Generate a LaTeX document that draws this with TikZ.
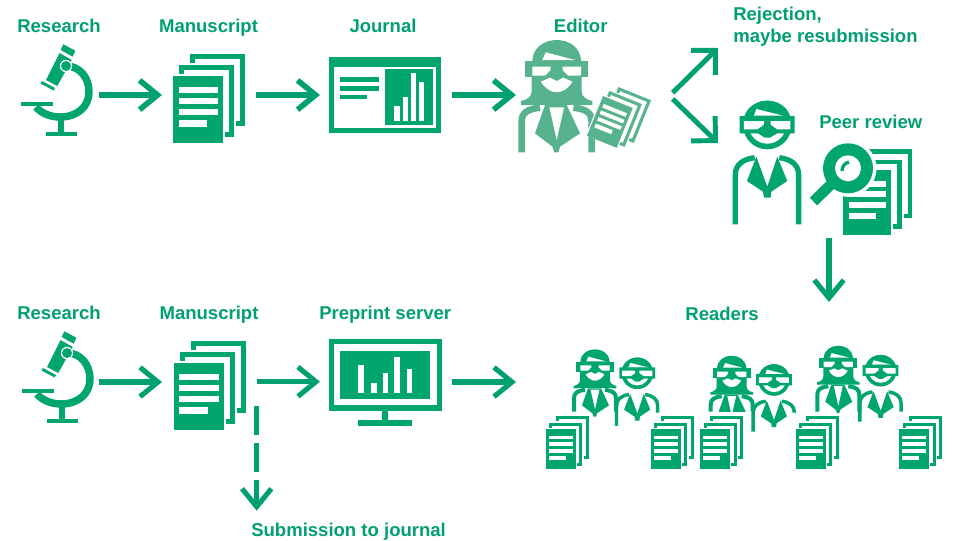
\documentclass[tikz,border=0pt]{standalone}
\usepackage{fontspec}
\setmainfont{Liberation Sans}
\usetikzlibrary{arrows.meta}
\definecolor{gmain}{HTML}{00A570}
\definecolor{garrow}{HTML}{00A071}
\definecolor{glight}{HTML}{57B38D}
\tikzset{
  lbl/.style={font=\bfseries\fontsize{13.9pt}{16pt}\selectfont,text=garrow,inner sep=0pt,anchor=base west},
  lblc/.style={lbl,anchor=base},
  conn/.style={draw=garrow,line width=4.2pt,-{Straight Barb[length=13.5pt,width=22pt]}},
  connlow/.style={conn,line width=3.8pt},
  conndiag/.style={draw=garrow,line width=3.7pt,-{Straight Barb[length=13pt,width=26pt]}}
}
% stack of pages: [extra scope options]{x}{y}{scale}{colour}
\newcommand\docstack[5][]{%
  \begin{scope}[shift={(#2,#3)},scale=#4,#1]
    \fill[white] (15,-2) rectangle (74,74);
    \fill[#5] (17,0) rectangle (72,72);
    \fill[white] (22,5) rectangle (67,67);
    \fill[white] (4,9) rectangle (63,85);
    \fill[#5] (6,11) rectangle (61,83);
    \fill[white] (11,16) rectangle (56,78);
    \fill[white] (-2,20) rectangle (52,89);
    \fill[#5] (0,22) rectangle (50,89);
    \fill[white] (5.7,33) rectangle (45,39);
    \fill[white] (5.7,44) rectangle (45,50);
    \fill[white] (5.7,55) rectangle (45,61);
    \fill[white] (5.7,66) rectangle (34,72.5);
  \end{scope}}
% microscope: {dx}{dy}
\newcommand\microscope[2]{%
  \begin{scope}[shift={(#1,#2)}]
    \fill[gmain] (63.3,44.3) -- (75.3,50.7) -- (72.7,56.7) -- (60.7,50) -- cycle;
    \fill[gmain] (59.5,53) -- (71.7,60) -- (57.3,86) -- (46,80) -- cycle;
    \fill[gmain] (42,81) -- (55,88) -- (53.5,90.5) -- (40.5,83.5) -- cycle;
    \draw[gmain,line width=5.6pt] (66,66) .. controls (80,66) and (89,78) .. (89,92) .. controls (89,106) and (78,117) .. (60,117) .. controls (50,117) and (41,113) .. (36,107);
    \fill[white] (66,66) circle (6.2);
    \fill[gmain] (66,66) circle (5);
    \fill[gmain] (21,102) rectangle (53,106);
    \fill[gmain] (57.5,117) rectangle (64.3,132);
    \fill[gmain] (45.7,131.5) rectangle (76.7,135.5);
  \end{scope}}
% man: {cx}{cy}{scale}{left arm end}{right arm end}{colour}
\newcommand\man[6]{%
  \begin{scope}[shift={(#1,#2)},scale=#3/3]
    \fill[#6] (0,0) circle (73);
    \fill[white] (0,0) circle (56);
    \fill[#6] (-68,-27) .. controls (-60,-55) and (-30,-73) .. (0,-73) .. controls (30,-73) and (60,-55) .. (68,-27) -- cycle;
    \fill[white] (-40,-28) -- (-33,-48) -- (47,-28) -- cycle;
    \fill[#6] (-83,-27) -- (82,-27) -- (82,25) -- (30,25) -- (8,38) -- (-8,38) -- (-28,25) -- (-83,25) -- cycle;
    \fill[white] (-70,-12) -- (-10,-12) -- (-10,-1) -- (-30,13) -- (-70,13) -- cycle;
    \fill[white] (10,-12) -- (69,-12) -- (69,13) -- (30,13) -- (10,-1) -- cycle;
    \fill[#6] (-61,168) -- (-33,95) -- (0,185) -- (30,95) -- (60,168) -- (12,200) -- (10,218) -- (-10,218) -- (-13,200) -- cycle;
    \draw[#6,line width=#3*4pt] (-96,#4) -- (-96,150) .. controls (-96,120) and (-75,103) .. (-38,98);
    \draw[#6,line width=#3*4pt] (94,#5) -- (94,150) .. controls (94,120) and (73,103) .. (36,98);
  \end{scope}}
% woman: {cx}{cy}{scale}{left arm end}{right arm end}{colour}
\newcommand\woman[6]{%
  \begin{scope}[shift={(#1,#2)},scale=#3/3]
    \fill[#6] (-73,-15) .. controls (-70,-55) and (-35,-75) .. (0,-75) .. controls (35,-75) and (70,-55) .. (73,-15) -- (75,37) -- (75,80) .. controls (75,95) and (90,105) .. (107,108) -- (107,120) -- (-107,120) -- (-107,108) .. controls (-90,105) and (-75,95) .. (-75,80) -- (-75,37) -- cycle;
    \fill[white] (-43,-15) -- (-33,-38) -- (55,-15) -- cycle;
    \fill[#6] (-95,-13) rectangle (95,37);
    \fill[white] (-73,5) -- (-18,5) -- (-18,15) -- (-35,32) -- (-73,32) -- cycle;
    \fill[white] (18,5) -- (73,5) -- (73,32) -- (35,32) -- (18,15) -- cycle;
    \fill[white] (-47,50) -- (-20,38) -- (0,48) -- (20,38) -- (47,50) .. controls (35,72) and (15,82) .. (0,82) .. controls (-15,82) and (-35,72) .. (-47,50) -- cycle;
    \fill[white] (-85,120) rectangle (85,127);
    \fill[#6] (-65,205) -- (-35,120) -- (30,120) -- (70,205) -- (10,245) -- (5,262) -- (-7,262) -- (-13,245) -- cycle;
    \fill[white] (-22,127) -- (22,127) -- (0,225) -- cycle;
    \draw[#6,line width=#3*5pt] (-105,#4) -- (-105,170) .. controls (-105,145) and (-90,132) .. (-50,128);
    \draw[#6,line width=#3*5pt] (105,#5) -- (105,170) .. controls (105,145) and (90,132) .. (50,128);
  \end{scope}}
\begin{document}
\begin{tikzpicture}[x=0.75pt,y=-0.75pt]
\useasboundingbox (0,0) rectangle (960,540);
\fill[white] (0,0) rectangle (960,540);

% ---------- top row
\node[lbl]  (tResearch)   at (17,32) {Research};
\node[lblc] (tManuscript) at (208.5,32) {Manuscript};
\node[lblc] (tJournal)    at (383,32) {Journal};
\node[lblc] (tEditor)     at (580.7,32) {Editor};
\node[lbl]  (tReject)     at (733,20) {Rejection,};
\node[lbl]  (tResub)      at (733,42.5) {maybe resubmission};
\node[lbl]  (tPeer)       at (819,128) {Peer review};

\microscope{0}{0}
\docstack{173}{54}{1}{gmain}

% journal page
\fill[gmain] (329.3,56.7) rectangle (440.7,132.7);
\fill[white] (334,66.7) rectangle (435.5,127.5);
\fill[gmain] (385,69.3) rectangle (432.7,125);
\fill[white] (394,106) rectangle (400,120.7);
\fill[white] (402.7,97.3) rectangle (408,120.7);
\fill[white] (410.7,73.3) rectangle (416,120.7);
\fill[white] (418.7,82) rectangle (424,120.7);
\fill[gmain] (340,77.3) rectangle (379.3,82);
\fill[gmain] (340,86) rectangle (379.3,90.7);
\fill[gmain] (340,95) rectangle (366.7,99.3);

% editor
\woman{556.7}{65}{1}{262}{262}{glight}
\docstack[rotate=-22,shift={(-36,-44.5)}]{619}{118}{0.64}{glight}

% reviewer and magnifier
\man{767.3}{125}{1}{298}{298}{gmain}
\docstack{843}{149}{0.965}{gmain}
\fill[white] (848,168.3) circle (28.5);
\draw[gmain,line width=8pt] (836,179.5) -- (813.5,201.5);
\fill[gmain] (848,168.3) circle (25);
\fill[white] (848,168.3) circle (13);
\draw[gmain,line width=2.5pt] (842,171) .. controls (842,166) and (845,163) .. (849,162);

% ---------- bottom row
\node[lbl]  (bResearch)   at (17,319) {Research};
\node[lblc] (bManuscript) at (209,319) {Manuscript};
\node[lbl]  (bPreprint)   at (319,319) {Preprint server};
\node[lblc] (bReaders)    at (722,320) {Readers};
\node[lbl]  (bSubmit)     at (251,536) {Submission to journal};

\microscope{1}{287}
\docstack{173.5}{341}{1}{gmain}

% monitor
\fill[gmain] (329,339.3) rectangle (442,410.7);
\fill[white] (334.3,344.3) rectangle (436.7,405);
\fill[gmain] (340.3,350.7) rectangle (430.3,398.7);
\fill[white] (358.3,365) rectangle (364,392.7);
\fill[white] (370.7,382.7) rectangle (376.7,392.7);
\fill[white] (382.7,373.3) rectangle (388.3,392.7);
\fill[white] (394.3,356.7) rectangle (400.3,392.7);
\fill[white] (406.7,369.3) rectangle (412.3,392.7);
\fill[gmain] (381.7,410.7) rectangle (388.3,420.7);
\fill[gmain] (358.3,420) rectangle (412.3,425.7);

% readers
\woman{595}{364.3}{0.6}{237}{237}{gmain}
\man{637.3}{373.3}{0.65}{243}{181}{gmain}
\woman{731.7}{370.7}{0.6}{205}{205}{gmain}
\fill[white] (708,411.7) rectangle (752,420);
\man{774}{380}{0.65}{238}{146}{gmain}
\woman{838.3}{360.7}{0.6}{255}{255}{gmain}
\man{880.7}{370.7}{0.65}{235}{189}{gmain}
\docstack{545.7}{416}{0.6}{gmain}
\docstack{650.7}{416}{0.6}{gmain}
\docstack{700}{416}{0.6}{gmain}
\docstack{795.7}{416}{0.6}{gmain}
\docstack{899}{416}{0.6}{gmain}

% ---------- connectors
\coordinate (a1s) at (98.5,95);   \coordinate (a1e) at (162,95);
\coordinate (a2s) at (256,95);    \coordinate (a2e) at (320,95);
\coordinate (a3s) at (452,95);    \coordinate (a3e) at (516,95);
\coordinate (d1s) at (672.7,92.7);\coordinate (d1e) at (718,48);
\coordinate (d2s) at (672.7,99);  \coordinate (d2e) at (718,143);
\coordinate (a4s) at (829,238);   \coordinate (a4e) at (829,302);
\coordinate (b1s) at (99,382);    \coordinate (b1e) at (162,382);
\coordinate (b2s) at (256.7,381.7);\coordinate (b2e) at (320,381.7);
\coordinate (b3s) at (452,382);   \coordinate (b3e) at (516,382);
\coordinate (b4s) at (256.7,406); \coordinate (b4e) at (256.7,510.7);
\draw[conn] (a1s) -- (a1e);
\draw[conn] (a2s) -- (a2e);
\draw[conn] (a3s) -- (a3e);
\draw[conndiag] (d1s) -- (d1e);
\draw[conndiag] (d2s) -- (d2e);
\draw[connlow] (a4s) -- (a4e);
\draw[connlow] (b1s) -- (b1e);
\draw[connlow] (b2s) -- (b2e);
\draw[connlow] (b3s) -- (b3e);
\draw[connlow,dash pattern=on 21.5pt off 6.3pt] (b4s) -- (b4e);
\end{tikzpicture}
\end{document}
